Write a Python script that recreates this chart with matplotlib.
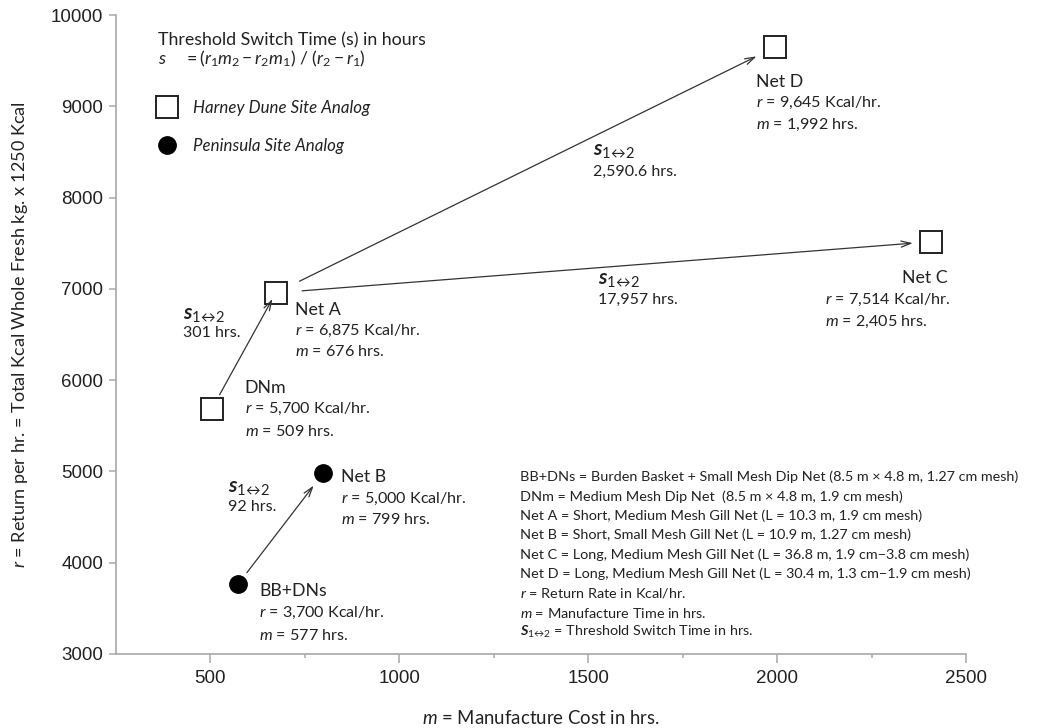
import matplotlib.pyplot as plt

plt.rcParams['font.family'] = 'Lato'
plt.rcParams['mathtext.fontset'] = 'custom'
plt.rcParams['mathtext.rm'] = 'Lato'
plt.rcParams['mathtext.it'] = 'Lato:italic'
plt.rcParams['mathtext.bf'] = 'Lato:italic:bold'

# gear types and their printed values
nets = ['BB+DNs', 'DNm', 'Net A', 'Net B', 'Net C', 'Net D']
site = ['peninsula', 'harney', 'harney', 'peninsula', 'harney', 'harney']
r_label = ['3,700', '5,700', '6,875', '5,000', '7,514', '9,645']
m_label = ['577', '509', '676', '799', '2,405', '1,992']
# where the symbols sit on the chart
m_plot = [574, 503, 673, 798, 2407, 1995]
r_plot = [3770, 5681, 6956, 4978, 7516, 9648]

# threshold switches (from, to, time)
sw_from = ['DNm', 'BB+DNs', 'Net A', 'Net A']
sw_to = ['Net A', 'Net B', 'Net D', 'Net C']
sw_time = ['301 hrs.', '92 hrs.', '2,590.6 hrs.', '17,957 hrs.']

notes = [
    'BB+DNs = Burden Basket + Small Mesh Dip Net (8.5 m \u00d7 4.8 m, 1.27 cm mesh)',
    'DNm = Medium Mesh Dip Net  (8.5 m \u00d7 4.8 m, 1.9 cm mesh)',
    'Net A = Short, Medium Mesh Gill Net (L = 10.3 m, 1.9 cm mesh)',
    'Net B = Short, Small Mesh Gill Net (L = 10.9 m, 1.27 cm mesh)',
    'Net C = Long, Medium Mesh Gill Net (L = 36.8 m, 1.9 cm\u22123.8 cm mesh)',
    'Net D = Long, Medium Mesh Gill Net (L = 30.4 m, 1.3 cm\u22121.9 cm mesh)',
    '$r$ = Return Rate in Kcal/hr.',
    '$m$ = Manufacture Time in hrs.',
    r'$\mathbf{S}_{1\!\leftrightarrow\!2}$ = Threshold Switch Time in hrs.',
]

W, H = 1039, 728
TXT = '#222222'
GRAY = '#a8a8a8'

fig = plt.figure(figsize=(W / 100, H / 100), dpi=100)
ax = fig.add_axes([116 / W, 1 - 654 / H, 850 / W, 639 / H])


def fpos(x, y):
    return x / W, 1 - y / H


idx = {n: i for i, n in enumerate(nets)}

# symbols
hx = [m_plot[i] for i in range(len(nets)) if site[i] == 'harney']
hy = [r_plot[i] for i in range(len(nets)) if site[i] == 'harney']
px_ = [m_plot[i] for i in range(len(nets)) if site[i] == 'peninsula']
py_ = [r_plot[i] for i in range(len(nets)) if site[i] == 'peninsula']
ax.plot(hx, hy, ls='none', marker='s', ms=16, mfc='white', mec=TXT, mew=1.4,
        label='Harney Dune Site Analog', zorder=3)
ax.plot(px_, py_, ls='none', marker='o', ms=12.5, mfc='black', mec='black',
        label='Peninsula Site Analog', zorder=3)

# arrows between nets
shrink = {('DNm', 'Net A'): (12, 5), ('BB+DNs', 'Net B'): (10, 11),
          ('Net A', 'Net D'): (19, 15), ('Net A', 'Net C'): (19, 13)}
for a, b in zip(sw_from, sw_to):
    sa, sb = shrink[(a, b)]
    ax.annotate('', xy=(m_plot[idx[b]], r_plot[idx[b]]),
                xytext=(m_plot[idx[a]], r_plot[idx[a]]),
                arrowprops=dict(arrowstyle='->,head_length=0.7,head_width=0.22',
                                color='#333333', lw=0.9, shrinkA=sa, shrinkB=sb))

# point labels: (dx, [dy name, dy r, dy m]) in pixels
lab_off = {
    'BB+DNs': (21, [7, 29, 52]),
    'DNm': (33, [-21, 0, 22]),
    'Net A': (19, [17, 38, 59]),
    'Net B': (18, [4, 25, 46]),
    'Net C': (17, [36, 58, 80]),
    'Net D': (-19, [35, 56, 78]),
}
for i, n in enumerate(nets):
    dx, dys = lab_off[n]
    xy = (m_plot[i], r_plot[i])
    lines = [n, f'$r$ = {r_label[i]} Kcal/hr.', f'$m$ = {m_label[i]} hrs.']
    for j, (t, dy) in enumerate(zip(lines, dys)):
        ha = 'left'
        x0 = dx
        if n == 'Net C':
            if j == 0:
                ha = 'right'
            else:
                x0 = -106
        ax.annotate(t, xy=xy, xytext=(x0 * 0.72, -dy * 0.72),
                    textcoords='offset points', ha=ha, va='center',
                    fontsize=12.8 if j == 0 else 11.6, color=TXT)

# switch-time labels
sw_pos = [(183, 315, 333), (228, 488, 507), (593, 151, 172), (598, 280, 300)]
for t, (x, y1, y2) in zip(sw_time, sw_pos):
    fig.text(*fpos(x, y1), r'$\mathbf{s}_{1\!\leftrightarrow\!2}$', fontsize=15,
             va='center', ha='left', color=TXT)
    fig.text(*fpos(x, y2), t, fontsize=11.5, va='center', ha='left', color=TXT)

# header formula
fig.text(*fpos(158, 40), 'Threshold Switch Time (s) in hours', fontsize=12.8,
         va='center', color=TXT)
fig.text(*fpos(158, 59),
         r'$\mathit{s\ \ \ \ = (r_1m_2 - r_2m_1)\ /\ (r_2 - r_1)}$',
         fontsize=12.7, va='center', color=TXT)

# notes block
for k, t in enumerate(notes):
    fig.text(*fpos(520, 477 + 19.4 * k), t, fontsize=10.4, va='center',
             ha='left', color=TXT)

leg = ax.legend(loc='upper left', bbox_to_anchor=fpos(159, 100),
                bbox_transform=fig.transFigure, frameon=False, borderpad=0,
                borderaxespad=0, handlelength=1.0, handletextpad=1.0,
                labelspacing=1.3, prop={'style': 'italic', 'size': 12.2})
for t in leg.get_texts():
    t.set_color(TXT)

ax.set_xlim(250, 2500)
ax.set_ylim(3000, 10000)
ax.set_xticks([500, 1000, 1500, 2000, 2500])
ax.set_xticks([750, 1250, 1750, 2250], minor=True)
ax.set_yticks(range(3000, 10001, 1000))

for s in ['top', 'right']:
    ax.spines[s].set_visible(False)
for s in ['left', 'bottom']:
    ax.spines[s].set_color(GRAY)
    ax.spines[s].set_linewidth(1.2)

ax.tick_params(axis='x', which='major', length=6.5, width=1.1, color=GRAY,
               pad=5, labelsize=13.5, labelcolor=TXT)
ax.tick_params(axis='x', which='minor', length=3, width=1.1, color=GRAY)
ax.tick_params(axis='y', length=5, width=1.1, color=GRAY, pad=4,
               labelsize=13.5, labelcolor=TXT)
for lbl in ax.get_xticklabels() + ax.get_yticklabels():
    lbl.set_fontfamily('Liberation Sans')

ax.set_xlabel('$m$ = Manufacture Cost in hrs.', fontsize=13.4, color=TXT, va='center')
ax.xaxis.set_label_coords(0.5, -(718 - 654) / 639)
ax.set_ylabel('$r$ = Return per hr. = Total Kcal Whole Fresh kg. x 1250 Kcal',
              fontsize=13, color=TXT, va='center')
ax.yaxis.set_label_coords((20 - 116) / 850, 0.5)

fig.savefig('out.png', dpi=100)
